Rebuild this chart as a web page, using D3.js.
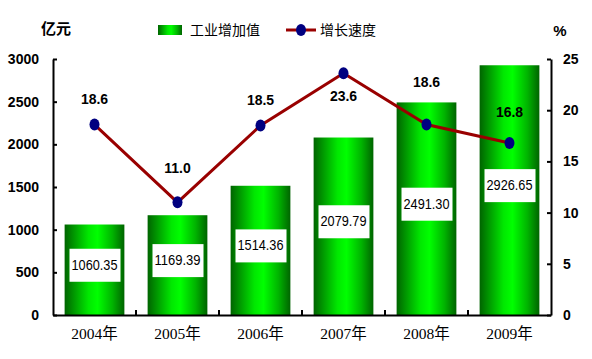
<!DOCTYPE html>
<html><head><meta charset="utf-8">
<script src="https://cdn.jsdelivr.net/npm/d3@7"></script>
<style>body{margin:0;background:#fff}svg{display:block}</style>
</head><body><svg id="c" width="592" height="359"></svg>
<script>
const years = ["2004年","2005年","2006年","2007年","2008年","2009年"];
const output = [1060.35,1169.39,1514.36,2079.79,2491.30,2926.65];
const outputLabels = ["1060.35","1169.39","1514.36","2079.79","2491.30","2926.65"];
const growth = [18.6,11.0,18.5,23.6,18.6,16.8];
const growthLabels = ["18.6","11.0","18.5","23.6","18.6","16.8"];
const leftTicks = [0,500,1000,1500,2000,2500,3000];
const rightTicks = [0,5,10,15,20,25];
// label placement (pixels relative to point), layout only
const growthLabelDy = [-26,-34,-26,23,-43,-31];

const svg = d3.select("#c");
const L = 53, R = 551, T = 59, B = 315;
const font = "'Liberation Sans', Arial, sans-serif";
const cjk = "'Noto Sans CJK SC', sans-serif";

const x = d3.scaleBand().domain(years).range([L, R]).paddingInner(0.28).paddingOuter(0.14);
const xb = d3.scaleBand().domain(years).range([L, R]);
const yL = d3.scaleLinear().domain([0,3000]).range([B, T]);
const yR = d3.scaleLinear().domain([0,25]).range([B, T]);

const defs = svg.append("defs");
const g = defs.append("linearGradient").attr("id","barg").attr("x1","0").attr("x2","1").attr("y1","0").attr("y2","0");
[[0,"#006400"],[0.12,"#008c00"],[0.4,"#00e800"],[0.55,"#00ff00"],[0.8,"#00b400"],[1,"#006400"]].forEach(s=>g.append("stop").attr("offset",s[0]).attr("stop-color",s[1]));

// bars
svg.append("g").selectAll("rect").data(output).join("rect")
  .attr("x",(d,i)=>x(years[i])).attr("width",x.bandwidth())
  .attr("y",d=>yL(d)).attr("height",d=>B-yL(d)).attr("fill","url(#barg)");

// axes
const fmt = d3.format("d");
const axL = svg.append("g").attr("transform",`translate(${L},0)`)
  .call(d3.axisLeft(yL).tickValues(leftTicks).tickFormat(fmt).tickSizeInner(-4).tickSizeOuter(0).tickPadding(14));
const axR = svg.append("g").attr("transform",`translate(${R},0)`)
  .call(d3.axisRight(yR).tickValues(rightTicks).tickFormat(fmt).tickSizeInner(-4).tickSizeOuter(0).tickPadding(12));
const axB = svg.append("g").attr("transform",`translate(0,${B})`)
  .call(d3.axisBottom(xb).tickSize(0).tickPadding(13));
[axL,axR,axB].forEach(a=>{a.select(".domain").attr("stroke","#000").attr("stroke-width",2);a.selectAll("line").attr("stroke","#000").attr("stroke-width",2);});
axL.selectAll("text").attr("font-family",font).attr("font-weight","bold").attr("font-size",14).attr("fill","#000");
axR.selectAll("text").attr("font-family",font).attr("font-weight","bold").attr("font-size",14).attr("fill","#000");
axB.selectAll("text").attr("font-family","'Liberation Serif', 'Noto Sans CJK SC', serif").attr("font-size",15.5).attr("fill","#000");
// category separator ticks
svg.append("g").selectAll("line").data(years.slice(1)).join("line")
  .attr("x1",d=>xb(d)).attr("x2",d=>xb(d)).attr("y1",B).attr("y2",B-5).attr("stroke","#000").attr("stroke-width",2);

// bar value labels
const bl = svg.append("g").selectAll("g").data(output).join("g")
  .attr("transform",(d,i)=>`translate(${x(years[i])+x.bandwidth()/2},${(yL(d)+B)/2 - 5})`);
bl.append("rect").attr("x",-25).attr("y",-16).attr("width",51).attr("height",33).attr("fill","#fff");
bl.append("text").text((d,i)=>outputLabels[i]).attr("text-anchor","middle").attr("dy","0.36em")
  .attr("font-family",font).attr("font-size",14).attr("textLength",46).attr("lengthAdjust","spacingAndGlyphs").attr("fill","#000");

// line
const cx = i => xb(years[i]) + xb.bandwidth()/2;
svg.append("path").datum(growth)
  .attr("d", d3.line().x((d,i)=>cx(i)).y(d=>yR(d)))
  .attr("fill","none").attr("stroke","#990000").attr("stroke-width",3);
svg.append("g").selectAll("ellipse").data(growth).join("ellipse")
  .attr("cx",(d,i)=>cx(i)).attr("cy",d=>yR(d)).attr("rx",5).attr("ry",6).attr("fill","#000080");
svg.append("g").selectAll("text").data(growth).join("text")
  .attr("x",(d,i)=>cx(i)).attr("y",(d,i)=>yR(d)+growthLabelDy[i]).attr("dy","0.36em").text((d,i)=>growthLabels[i])
  .attr("text-anchor","middle").attr("font-family",font).attr("font-weight","bold").attr("font-size",14).attr("fill","#000");

// unit labels
svg.append("text").attr("x",56).attr("y",34).text("亿元").attr("text-anchor","middle")
  .attr("font-family",cjk).attr("font-weight","bold").attr("font-size",15);
svg.append("text").attr("x",560).attr("y",36).text("%").attr("text-anchor","middle")
  .attr("font-family",font).attr("font-weight","bold").attr("font-size",15);

// legend
svg.append("rect").attr("x",158).attr("y",25).attr("width",24).attr("height",10).attr("fill","url(#barg)");
svg.append("text").attr("x",190).attr("y",35).text("工业增加值").attr("font-family",cjk).attr("font-size",14);
svg.append("line").attr("x1",286).attr("x2",316).attr("y1",30).attr("y2",30).attr("stroke","#990000").attr("stroke-width",3);
svg.append("ellipse").attr("cx",301).attr("cy",30).attr("rx",5).attr("ry",6).attr("fill","#000080");
svg.append("text").attr("x",320).attr("y",35).text("增长速度").attr("font-family",cjk).attr("font-size",14);
</script></body></html>
